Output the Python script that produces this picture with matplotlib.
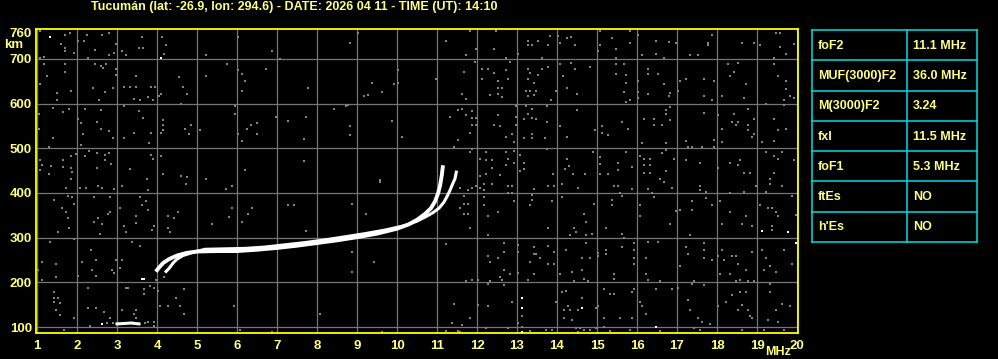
import matplotlib
matplotlib.use("Agg")
import matplotlib.pyplot as plt

# ---- data ----
TITLE = "Tucumán (lat: -26.9, lon: 294.6) - DATE: 2026 04 11 - TIME (UT): 14:10"
FREQ_TICKS = list(range(1, 21))
GRID_HEIGHTS = [100, 200, 300, 400, 500, 600, 700]
HEIGHT_TICKS = [100, 200, 300, 400, 500, 600, 700, 760]

# ordinary trace (MHz, km)
O_FREQ = [3.97, 4.05, 4.15, 4.3, 4.5, 4.75, 5.0, 5.5, 6.0, 6.5, 7.0, 7.5, 8.0,
          8.5, 9.0, 9.5, 10.0, 10.3, 10.5, 10.7, 10.85, 10.95, 11.03, 11.08,
          11.12, 11.15]
O_HEIGHT = [224, 233, 243, 252, 260, 266, 269, 270, 270, 273, 277, 282, 288,
            294, 301, 309, 320, 330, 340, 353, 366, 381, 400, 418, 440, 462]

# extraordinary trace
X_FREQ = [4.2, 4.3, 4.4, 4.5, 4.65, 4.9, 5.2, 5.7, 6.2, 6.7, 7.2, 7.7, 8.2,
          8.7, 9.2, 9.7, 10.2, 10.5, 10.7, 10.9, 11.05, 11.17, 11.25, 11.32,
          11.38, 11.45, 11.49]
X_HEIGHT = [222, 231, 243, 252, 260, 267, 274, 275, 276, 279, 284, 289, 295,
            302, 309, 317, 327, 337, 346, 356, 366, 379, 392, 405, 418, 432, 450]

# E layer echoes
E_FREQ = [3.0, 3.2, 3.35, 3.55]
E_HEIGHT = [107, 108, 109, 107]

NOISE_WHITE = [(1.33, 748), (4.09, 703), (2.63, 106), (3.63, 208), (3.68, 207),
               (13.13, 164), (13.13, 142), (13.13, 88), (19.13, 315),
               (19.78, 313), (19.98, 287), (14.63, 142), (16.48, 100)]

NOISE_GRAY = [
    (1.08, 762), (1.69, 753), (1.83, 757), (2.24, 753), (2.63, 753), (2.79, 759),
    (3.63, 748), (4.13, 748), (4.23, 731), (4.18, 712), (5.23, 708), (6.03, 748),
    (6.88, 717), (7.08, 699), (2.03, 740), (2.18, 740), (1.59, 734), (1.69, 725),
    (1.69, 717), (1.93, 713), (2.44, 721), (2.93, 713), (2.8, 708), (3.13, 717),
    (3.23, 708), (3.54, 725), (3.64, 725), (2.97, 734), (1.18, 705), (1.08, 703),
    (2.28, 703), (1.18, 688), (1.69, 688), (1.69, 670), (1.24, 661), (1.08, 643),
    (1.49, 623), (1.49, 607), (1.84, 629), (2.44, 688), (2.59, 684), (2.73, 688),
    (2.64, 679), (2.98, 678), (2.98, 665), (2.39, 634), (2.69, 625), (2.54, 607),
    (2.89, 634), (3.48, 661), (3.18, 638), (3.33, 638), (3.48, 638), (3.84, 638),
    (3.94, 638), (3.43, 611), (3.58, 607), (3.78, 615), (3.89, 607), (4.04, 617),
    (4.09, 621), (4.54, 659), (4.64, 638), (4.74, 621), (5.23, 661), (5.76, 688),
    (6.03, 675), (6.13, 666), (6.19, 651), (6.13, 628), (6.73, 678), (1.39, 591),
    (1.79, 588), (1.64, 581), (1.04, 577), (2.19, 589), (2.59, 585), (2.03, 566),
    (2.09, 556), (2.49, 558), (2.59, 544), (2.79, 538), (2.89, 522), (2.14, 531),
    (1.39, 522), (1.04, 544), (1.29, 502), (2.09, 507), (3.18, 594), (3.54, 583),
    (3.64, 567), (3.18, 522), (3.43, 535), (3.84, 535), (3.79, 511), (4.14, 563),
    (4.14, 553), (4.14, 542), (4.09, 535), (4.59, 599), (4.69, 544), (4.84, 553),
    (4.79, 533), (5.08, 540), (5.94, 594), (5.94, 576), (6.24, 544), (6.34, 553),
    (6.49, 556), (6.49, 531), (6.03, 531), (6.13, 516), (6.98, 569), (7.28, 562),
    (1.08, 473), (1.13, 462), (1.34, 460), (1.08, 451), (1.64, 473), (1.64, 458),
    (1.84, 483), (1.84, 456), (1.88, 447), (1.98, 488), (1.29, 442), (2.19, 483),
    (2.29, 495), (2.49, 490), (2.69, 486), (2.79, 490), (2.69, 473), (2.84, 464),
    (2.49, 456), (1.84, 432), (3.33, 453), (3.84, 486), (3.89, 477), (4.09, 482),
    (4.14, 442), (3.74, 432), (4.59, 438), (4.74, 436), (5.23, 432), (6.19, 451),
    (9.03, 757), (8.83, 735), (11.23, 741), (11.83, 762), (12.48, 762), (11.98, 723),
    (12.43, 723), (11.73, 708), (13.03, 712), (13.28, 740), (13.38, 731), (13.53, 740),
    (13.28, 731), (12.73, 701), (12.83, 693), (13.63, 701), (11.94, 693), (7.78, 634),
    (9.38, 647), (9.63, 625), (9.18, 616), (9.28, 619), (10.03, 675), (9.93, 643),
    (10.03, 647), (10.98, 656), (11.68, 670), (12.13, 677), (12.13, 655), (12.28, 678),
    (12.43, 668), (12.53, 651), (12.73, 675), (12.78, 656), (12.53, 634), (12.63, 634),
    (12.33, 619), (12.53, 621), (12.63, 615), (11.63, 621), (11.73, 610), (13.28, 678),
    (13.33, 669), (13.53, 665), (13.28, 656), (13.43, 647), (13.23, 628), (13.33, 629),
    (13.48, 629), (13.28, 616), (13.43, 620), (13.63, 678), (7.73, 571), (8.43, 589),
    (8.73, 595), (8.78, 598), (8.83, 549), (8.83, 529), (9.88, 562), (10.13, 526),
    (7.68, 520), (11.33, 569), (11.53, 585), (11.63, 589), (11.73, 575), (11.88, 583),
    (11.88, 568), (11.98, 568), (11.88, 553), (11.98, 552), (11.83, 534), (11.53, 518),
    (11.43, 504), (12.53, 574), (12.43, 553), (12.58, 549), (12.98, 594), (12.98, 571),
    (12.98, 552), (12.88, 531), (12.73, 525), (12.93, 513), (13.23, 594), (13.38, 589),
    (13.28, 576), (13.38, 568), (13.48, 566), (13.18, 566), (13.38, 531), (13.38, 522),
    (13.18, 522), (7.68, 471), (9.58, 429), (11.88, 498), (11.83, 491), (12.08, 477),
    (12.23, 491), (12.38, 473), (12.38, 457), (12.23, 473), (12.23, 442), (12.08, 438),
    (12.58, 441), (12.73, 491), (12.78, 476), (12.73, 462), (12.93, 495), (13.08, 486),
    (12.93, 468), (13.18, 468), (13.08, 450), (13.18, 453),
    (13.83, 752), (14.03, 752), (14.24, 746), (14.34, 748), (14.44, 731), (14.08, 735),
    (13.78, 731), (15.08, 762), (15.38, 746), (15.48, 723), (15.08, 731), (15.03, 717),
    (15.48, 703), (15.83, 762), (15.83, 735), (16.03, 753), (16.48, 740), (16.79, 738),
    (16.48, 712), (16.13, 708), (16.68, 703), (16.98, 735), (17.78, 735), (17.88, 753),
    (17.78, 731), (17.33, 708), (17.53, 708), (18.63, 735), (18.93, 735), (19.08, 731),
    (19.48, 757), (19.58, 757), (19.73, 712), (19.58, 727), (19.93, 733), (13.78, 683),
    (14.08, 688), (14.34, 690), (14.44, 678), (14.83, 681), (14.14, 661), (14.24, 634),
    (14.49, 621), (13.84, 607), (13.98, 629), (15.48, 688), (15.68, 688), (15.73, 663),
    (15.48, 666), (15.73, 647), (15.68, 625), (15.73, 603), (15.83, 607), (16.03, 651),
    (16.03, 625), (16.03, 612), (16.28, 678), (16.28, 666), (16.53, 666), (16.68, 643),
    (16.28, 621), (16.83, 623), (16.79, 616), (17.08, 650), (17.23, 656), (17.68, 656),
    (17.93, 651), (17.68, 616), (17.88, 607), (17.03, 629), (18.28, 688), (18.53, 690),
    (18.43, 670), (18.33, 661), (18.73, 643), (18.68, 612), (18.13, 616), (19.43, 701),
    (19.43, 688), (19.53, 661), (19.73, 651), (19.73, 632), (19.83, 616), (19.68, 607),
    (19.93, 612), (13.74, 594), (13.74, 558), (14.08, 549), (14.24, 526), (14.49, 585),
    (14.94, 540), (13.69, 522), (15.13, 549), (15.13, 535), (15.28, 529), (15.63, 558),
    (15.78, 544), (16.13, 511), (16.18, 566), (16.43, 566), (16.43, 553), (16.63, 553),
    (16.73, 585), (16.73, 576), (16.83, 593), (16.83, 563), (16.73, 511), (17.23, 516),
    (17.28, 504), (17.38, 504), (17.63, 504), (17.93, 518), (17.93, 504), (17.68, 580),
    (18.03, 574), (18.43, 576), (18.38, 558), (18.48, 552), (18.53, 558), (18.13, 544),
    (18.13, 514), (18.78, 589), (18.78, 553), (18.78, 540), (18.88, 525), (18.93, 531),
    (18.93, 566), (19.13, 514), (19.43, 566), (19.43, 516), (19.53, 540), (19.73, 544),
    (19.68, 596), (19.23, 599), (13.74, 498), (14.24, 476), (14.29, 460), (14.19, 454),
    (14.39, 442), (13.89, 443), (14.69, 442), (14.89, 491), (15.08, 480), (15.08, 465),
    (15.08, 442), (15.28, 442), (15.53, 468), (15.53, 451), (15.73, 491), (15.88, 459),
    (16.08, 482), (16.18, 477), (16.18, 462), (16.33, 477), (16.33, 462), (16.18, 444),
    (16.33, 444), (16.63, 489), (16.73, 496), (16.73, 450), (16.93, 477), (16.58, 432),
    (17.23, 473), (17.58, 467), (18.03, 455), (18.33, 468), (18.53, 462), (18.58, 473),
    (18.68, 445), (18.83, 445), (19.23, 491), (19.43, 482), (19.63, 491), (19.53, 477),
    (19.93, 473), (19.43, 445), (19.33, 432),
    (1.72, 412), (2.08, 412), (2.23, 412), (2.53, 416), (2.63, 412), (2.93, 409),
    (3.13, 416), (3.78, 407), (4.73, 421), (5.72, 409), (5.88, 416), (1.43, 385),
    (1.78, 394), (1.88, 390), (2.43, 390), (2.83, 390), (1.63, 367), (1.93, 376),
    (3.08, 367), (3.63, 372), (3.73, 381), (3.58, 390), (3.78, 363), (1.73, 358),
    (1.78, 345), (2.53, 345), (2.43, 334), (2.78, 352), (2.83, 358), (2.63, 331),
    (3.48, 349), (3.48, 332), (3.18, 327), (3.23, 313), (2.58, 309), (1.79, 322),
    (1.53, 313), (3.93, 327), (3.88, 318), (4.28, 349), (4.43, 345), (4.53, 358),
    (4.28, 322), (4.33, 313), (5.38, 331), (5.88, 367), (6.13, 336), (6.28, 354),
    (6.38, 367), (7.28, 372), (5.8, 346), (1.33, 291), (1.93, 296), (3.38, 291),
    (3.58, 282), (2.34, 273), (1.13, 246), (1.48, 240), (1.03, 228), (1.13, 205),
    (1.48, 211), (2.13, 246), (2.48, 249), (2.38, 228), (2.48, 215), (2.03, 215),
    (2.98, 251), (3.13, 251), (3.08, 233), (2.93, 220), (2.88, 228), (4.18, 211),
    (3.98, 206), (1.43, 179), (1.43, 166), (1.53, 166), (1.43, 157), (1.58, 153),
    (1.58, 127), (1.48, 138), (2.28, 188), (3.23, 188), (3.28, 188), (3.68, 184),
    (3.68, 175), (3.83, 191), (3.93, 188), (4.03, 181), (4.68, 184), (2.28, 142),
    (2.48, 142), (2.68, 133), (2.83, 120), (3.13, 138), (3.48, 138), (3.43, 129),
    (3.48, 120), (4.08, 147), (4.28, 147), (4.58, 147), (4.68, 129), (4.48, 164),
    (5.93, 147), (1.93, 120), (2.33, 102), (1.68, 94), (3.93, 102), (3.93, 112),
    (3.78, 111), (6.08, 93), (6.88, 88), (2.9, 108), (3.7, 108), (2.75, 109),
    (9.58, 425), (11.58, 412), (11.78, 407), (11.88, 412), (11.98, 416), (12.08, 412),
    (12.18, 419), (12.38, 419), (12.18, 407), (12.78, 416), (12.88, 416), (12.78, 399),
    (12.88, 399), (13.43, 409), (13.38, 396), (13.38, 384), (13.33, 372), (11.68, 394),
    (11.68, 376), (11.78, 376), (11.58, 367), (11.68, 352), (11.78, 354), (12.18, 390),
    (12.18, 372), (12.28, 348), (12.53, 358), (12.93, 381), (7.43, 372), (8.88, 376),
    (9.23, 354), (7.73, 316), (11.83, 322), (12.28, 307), (8.88, 269), (9.43, 246),
    (8.88, 224), (11.23, 285), (12.68, 287), (13.03, 284), (13.03, 267), (12.68, 269),
    (12.28, 260), (12.33, 246), (12.53, 255), (12.68, 228), (12.83, 219), (13.03, 222),
    (13.33, 246), (13.43, 263), (13.48, 264), (13.43, 278), (13.58, 255), (13.43, 219),
    (13.28, 206), (12.58, 211), (12.63, 206), (11.73, 202), (11.88, 206), (12.03, 206),
    (12.33, 202), (12.68, 193), (12.28, 197), (11.43, 151), (12.03, 150), (12.28, 147),
    (11.83, 120), (11.63, 105), (11.38, 108), (11.23, 91), (11.53, 92), (11.58, 88),
    (8.08, 129), (9.63, 88), (12.88, 155), (12.23, 97), (12.78, 97), (13.03, 108),
    (13.33, 90), (13.13, 124), (13.13, 100),
    (13.78, 416), (13.93, 416), (14.13, 421), (14.53, 412), (15.43, 416), (15.53, 416),
    (15.88, 410), (16.28, 409), (16.38, 401), (16.68, 425), (16.88, 412), (17.58, 416),
    (17.58, 407), (17.73, 403), (18.33, 399), (18.68, 403), (18.98, 416), (19.23, 403),
    (19.33, 421), (19.63, 416), (14.13, 390), (13.88, 381), (14.93, 376), (15.63, 394),
    (15.38, 385), (15.38, 372), (15.58, 401), (16.08, 372), (16.08, 349), (16.43, 390),
    (16.98, 360), (17.08, 363), (17.38, 381), (17.38, 363), (17.73, 388), (17.88, 372),
    (18.08, 381), (18.33, 358), (18.13, 331), (18.73, 348), (18.63, 331), (18.88, 327),
    (19.07, 372), (19.28, 366), (19.38, 366), (19.48, 358), (19.53, 348), (19.38, 327),
    (19.38, 318), (19.98, 351), (19.88, 394), (14.68, 354), (14.73, 334), (14.43, 322),
    (14.48, 313), (14.33, 306), (14.73, 306), (14.88, 309), (15.23, 322), (15.63, 309),
    (15.68, 300), (13.78, 322), (16.83, 331), (17.33, 306), (13.78, 282), (13.93, 269),
    (14.23, 273), (14.73, 287), (14.63, 255), (14.83, 255), (15.03, 266), (15.03, 259),
    (15.23, 273), (15.23, 264), (15.63, 278), (15.93, 287), (15.93, 273), (15.93, 255),
    (15.93, 242), (16.28, 291), (16.53, 290), (16.23, 255), (17.23, 278), (17.28, 264),
    (17.68, 287), (17.68, 273), (17.68, 255), (17.88, 251), (17.08, 237), (18.13, 273),
    (18.03, 260), (18.18, 251), (18.38, 260), (18.48, 260), (18.88, 267), (18.53, 242),
    (18.73, 228), (19.13, 273), (19.23, 255), (19.33, 237), (19.18, 228), (19.48, 224),
    (19.68, 273), (19.88, 242), (13.78, 242), (13.93, 242), (14.08, 219), (14.38, 224),
    (14.63, 228), (14.68, 208), (14.43, 202), (14.78, 202), (15.43, 219), (15.43, 208),
    (16.23, 219), (16.28, 206), (16.58, 202), (17.43, 204), (17.38, 196), (17.68, 193),
    (18.08, 219), (18.33, 219), (18.48, 202), (18.58, 206), (18.78, 204), (18.93, 203),
    (19.33, 197), (14.13, 179), (14.23, 181), (13.98, 157), (14.28, 146), (14.18, 137),
    (14.33, 137), (14.53, 137), (14.18, 120), (14.38, 115), (14.63, 164), (15.03, 146),
    (14.98, 142), (15.18, 120), (15.33, 175), (15.43, 175), (15.18, 184), (15.58, 120),
    (15.88, 120), (15.93, 184), (15.88, 179), (16.08, 155), (16.13, 146), (16.23, 129),
    (16.48, 184), (16.88, 184), (17.03, 187), (17.33, 137), (17.28, 160), (17.53, 120),
    (17.63, 112), (17.83, 106), (18.03, 147), (18.23, 155), (18.38, 172), (18.58, 179),
    (18.73, 179), (18.53, 137), (18.63, 149), (18.78, 137), (18.83, 124), (18.88, 120),
    (19.33, 178), (19.63, 151), (19.83, 147), (19.48, 137), (19.28, 115), (19.53, 111),
    (13.73, 93), (13.88, 93), (14.48, 97), (14.58, 97), (14.53, 88), (14.68, 93),
    (14.83, 93), (14.98, 97), (15.18, 100), (15.33, 90), (15.83, 93), (16.58, 90),
    (17.43, 97), (17.58, 93), (18.63, 93), (19.18, 93), (19.68, 93),
]

TABLE_LABELS = ["foF2", "MUF(3000)F2", "M(3000)F2", "fxI", "foF1", "ftEs", "h'Es"]
TABLE_VALUES = ["11.1 MHz", "36.0 MHz", "3.24", "11.5 MHz", "5.3 MHz", "NO", "NO"]

# ---- style ----
YELLOW = "#ffff00"
TEXT = "#ffff80"
GRIDC = "#767676"
CYAN = "#00dede"
plt.rcParams.update({"font.family": ["Liberation Sans", "DejaVu Sans"],
                     "font.weight": "bold", "font.size": 9})

W, H = 998, 359
fig = plt.figure(figsize=(W / 100, H / 100), dpi=100, facecolor="black")

ax = fig.add_axes([36 / W, 1 - 333 / H, 762 / W, 304 / H], facecolor="black")
ax.set_xlim(0.975, 20.025)
ax.set_ylim(86.6, 767)

for f in FREQ_TICKS:
    ax.axvline(f, color=GRIDC, lw=0.9, zorder=1)
for h in GRID_HEIGHTS:
    ax.axhline(h, color=GRIDC, lw=0.9, zorder=1)

gf = [p[0] for p in NOISE_GRAY]
gh = [p[1] for p in NOISE_GRAY]
ax.plot(gf, gh, "s", ms=1.7, mew=0, color="#848484", zorder=2)

ax.plot(O_FREQ, O_HEIGHT, color="white", lw=2.8, solid_capstyle="butt", zorder=3)
ax.plot(X_FREQ, X_HEIGHT, color="white", lw=2.2, solid_capstyle="butt", zorder=3)
ax.plot(E_FREQ, E_HEIGHT, color="white", lw=2.2, zorder=3)

wf = [p[0] for p in NOISE_WHITE]
wh = [p[1] for p in NOISE_WHITE]
ax.plot(wf, wh, "s", ms=2.0, mew=0, color="white", zorder=3)

for s in ax.spines.values():
    s.set_color(YELLOW)
    s.set_linewidth(1.3)

ax.set_xticks(FREQ_TICKS)
ax.set_xticklabels([str(f) for f in FREQ_TICKS])
ax.set_yticks(HEIGHT_TICKS)
ax.set_yticklabels([str(h) for h in HEIGHT_TICKS])
ax.tick_params(length=0, colors=TEXT, labelsize=9.5)
ax.tick_params(axis="x", pad=5)
ax.tick_params(axis="y", pad=3)

fig.text(14 / W, 1 - 45 / H, "km", color=TEXT, ha="center", va="center", fontsize=9.5)
fig.text(778 / W, 1 - 352 / H, "MHz", color=TEXT, ha="center", va="center", fontsize=9)
fig.text(294 / W, 1 - 7 / H, TITLE, color=TEXT, ha="center", va="center", fontsize=9)

# ---- parameter table ----
tab = fig.add_axes([812 / W, 1 - 242 / H, 165 / W, 212 / H], facecolor="black")
tab.set_xlim(0, 1)
tab.set_ylim(len(TABLE_LABELS), 0)
tab.axis("off")
for i in range(len(TABLE_LABELS) + 1):
    tab.plot([0, 1], [i, i], color=CYAN, lw=1.1, clip_on=False)
for x in [0, 0.576, 1]:
    tab.plot([x, x], [0, len(TABLE_LABELS)], color=CYAN, lw=1.1, clip_on=False)
for i, (lab, val) in enumerate(zip(TABLE_LABELS, TABLE_VALUES)):
    tab.text(0.036, i + 0.52, lab, color=TEXT, va="center", ha="left", fontsize=9)
    tab.text(0.612, i + 0.52, val, color=TEXT, va="center", ha="left", fontsize=9)

fig.savefig("out.png", dpi=100, facecolor="black")
